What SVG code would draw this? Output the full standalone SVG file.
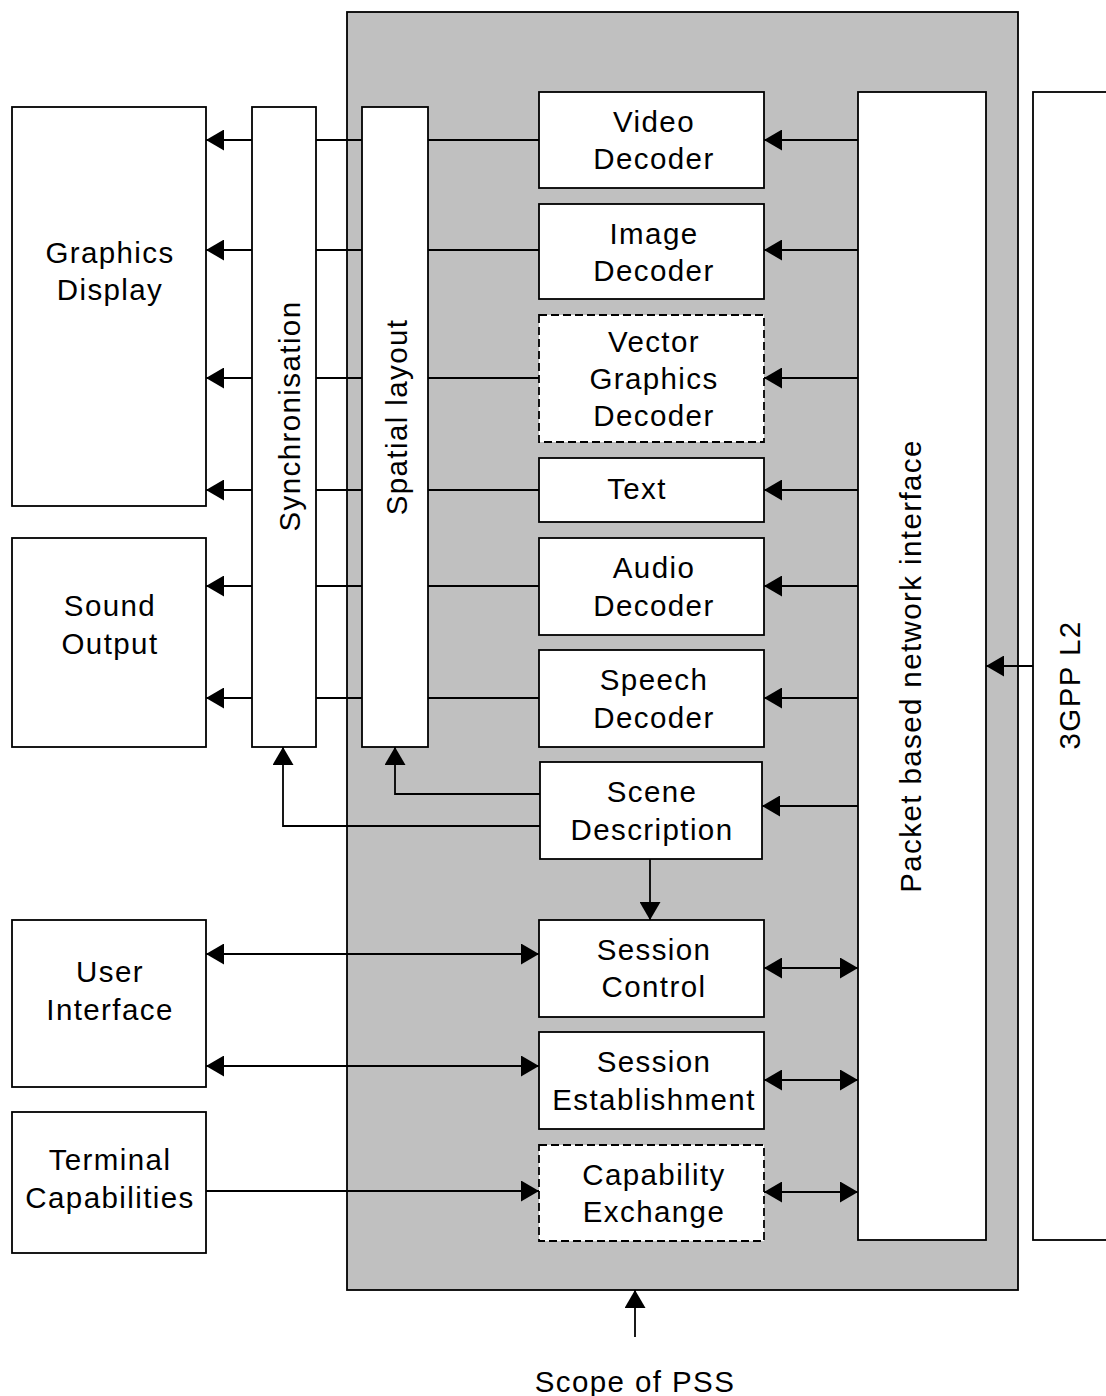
<svg xmlns="http://www.w3.org/2000/svg" width="1106" height="1396" viewBox="0 0 1106 1396">
<style>
.box{fill:#fff;stroke:#000;stroke-width:1.8}
.dash{fill:#fff;stroke:#000;stroke-width:1.8;stroke-dasharray:8,4}
.scope{fill:#c0c0c0;stroke:#000;stroke-width:1.8}
.ln{fill:none;stroke:#000;stroke-width:1.8}
.t{font-family:"Liberation Sans",Arial,sans-serif;font-size:29.5px;letter-spacing:1.4px;fill:#000;text-anchor:middle}
</style>
<defs>
<marker id="ah" markerUnits="userSpaceOnUse" markerWidth="18" markerHeight="21" refX="18" refY="10.5" orient="auto-start-reverse" viewBox="0 0 18 21">
<path d="M0,0 L18,10.5 L0,21 z" fill="#000"/>
</marker>
</defs>
<g id="scope"><rect class="scope" x="347" y="12" width="671" height="1278"/></g>
<g id="connectors">
<line class="ln" x1="252" y1="140" x2="206" y2="140" marker-end="url(#ah)"/>
<line class="ln" x1="252" y1="250" x2="206" y2="250" marker-end="url(#ah)"/>
<line class="ln" x1="252" y1="378" x2="206" y2="378" marker-end="url(#ah)"/>
<line class="ln" x1="252" y1="490" x2="206" y2="490" marker-end="url(#ah)"/>
<line class="ln" x1="252" y1="586" x2="206" y2="586" marker-end="url(#ah)"/>
<line class="ln" x1="252" y1="698" x2="206" y2="698" marker-end="url(#ah)"/>
<line class="ln" x1="539" y1="140" x2="316" y2="140"/>
<line class="ln" x1="539" y1="250" x2="316" y2="250"/>
<line class="ln" x1="539" y1="378" x2="316" y2="378"/>
<line class="ln" x1="539" y1="490" x2="316" y2="490"/>
<line class="ln" x1="539" y1="586" x2="316" y2="586"/>
<line class="ln" x1="539" y1="698" x2="316" y2="698"/>
<line class="ln" x1="858" y1="140" x2="764" y2="140" marker-end="url(#ah)"/>
<line class="ln" x1="858" y1="250" x2="764" y2="250" marker-end="url(#ah)"/>
<line class="ln" x1="858" y1="378" x2="764" y2="378" marker-end="url(#ah)"/>
<line class="ln" x1="858" y1="490" x2="764" y2="490" marker-end="url(#ah)"/>
<line class="ln" x1="858" y1="586" x2="764" y2="586" marker-end="url(#ah)"/>
<line class="ln" x1="858" y1="698" x2="764" y2="698" marker-end="url(#ah)"/>
<line class="ln" x1="858" y1="806" x2="762" y2="806" marker-end="url(#ah)"/>
<line class="ln" x1="764" y1="968" x2="858" y2="968" marker-start="url(#ah)" marker-end="url(#ah)"/>
<line class="ln" x1="764" y1="1080" x2="858" y2="1080" marker-start="url(#ah)" marker-end="url(#ah)"/>
<line class="ln" x1="764" y1="1192" x2="858" y2="1192" marker-start="url(#ah)" marker-end="url(#ah)"/>
<line class="ln" x1="1033" y1="666" x2="986" y2="666" marker-end="url(#ah)"/>
<polyline class="ln" points="540,794 395,794 395,747" marker-end="url(#ah)"/>
<polyline class="ln" points="540,826 283,826 283,747" marker-end="url(#ah)"/>
<line class="ln" x1="650" y1="859" x2="650" y2="920" marker-end="url(#ah)"/>
<line class="ln" x1="206" y1="954" x2="539" y2="954" marker-start="url(#ah)" marker-end="url(#ah)"/>
<line class="ln" x1="206" y1="1066" x2="539" y2="1066" marker-start="url(#ah)" marker-end="url(#ah)"/>
<line class="ln" x1="206" y1="1191" x2="539" y2="1191" marker-end="url(#ah)"/>
<line class="ln" x1="635" y1="1337" x2="635" y2="1290" marker-end="url(#ah)"/>
</g>
<g id="graphics-display"><rect class="box" x="12" y="107" width="194" height="399"/>
<text class="t" x="110" y="263">Graphics</text><text class="t" x="110" y="300">Display</text></g>
<g id="sound-output"><rect class="box" x="12" y="538" width="194" height="209"/>
<text class="t" x="110" y="616">Sound</text><text class="t" x="110" y="654">Output</text></g>
<g id="user-interface"><rect class="box" x="12" y="920" width="194" height="167"/>
<text class="t" x="110" y="982">User</text><text class="t" x="110" y="1020">Interface</text></g>
<g id="terminal-capabilities"><rect class="box" x="12" y="1112" width="194" height="141"/>
<text class="t" x="110" y="1170">Terminal</text><text class="t" x="110" y="1208">Capabilities</text></g>
<g id="synchronisation"><rect class="box" x="252" y="107" width="64" height="640"/>
<text class="t" transform="translate(300,416) rotate(-90)">Synchronisation</text></g>
<g id="spatial-layout"><rect class="box" x="362" y="107" width="66" height="640"/>
<text class="t" transform="translate(407,417) rotate(-90)">Spatial layout</text></g>
<g id="video-decoder"><rect class="box" x="539" y="92" width="225" height="96"/>
<text class="t" x="654" y="132">Video</text><text class="t" x="654" y="169">Decoder</text></g>
<g id="image-decoder"><rect class="box" x="539" y="204" width="225" height="95"/>
<text class="t" x="654" y="244">Image</text><text class="t" x="654" y="281">Decoder</text></g>
<g id="vector-graphics-decoder"><rect class="dash" x="539" y="315" width="225" height="127"/>
<text class="t" x="654" y="352">Vector</text><text class="t" x="654" y="389">Graphics</text><text class="t" x="654" y="426">Decoder</text></g>
<g id="text"><rect class="box" x="539" y="458" width="225" height="64"/>
<text class="t" x="637" y="499">Text</text></g>
<g id="audio-decoder"><rect class="box" x="539" y="538" width="225" height="97"/>
<text class="t" x="654" y="578">Audio</text><text class="t" x="654" y="616">Decoder</text></g>
<g id="speech-decoder"><rect class="box" x="539" y="650" width="225" height="97"/>
<text class="t" x="654" y="690">Speech</text><text class="t" x="654" y="728">Decoder</text></g>
<g id="scene-description"><rect class="box" x="540" y="762" width="222" height="97"/>
<text class="t" x="652" y="802">Scene</text><text class="t" x="652" y="840">Description</text></g>
<g id="session-control"><rect class="box" x="539" y="920" width="225" height="97"/>
<text class="t" x="654" y="960">Session</text><text class="t" x="654" y="997">Control</text></g>
<g id="session-establishment"><rect class="box" x="539" y="1032" width="225" height="97"/>
<text class="t" x="654" y="1072">Session</text><text class="t" x="654" y="1110">Establishment</text></g>
<g id="capability-exchange"><rect class="dash" x="539" y="1145" width="225" height="96"/>
<text class="t" x="654" y="1185">Capability</text><text class="t" x="654" y="1222">Exchange</text></g>
<g id="packet-interface"><rect class="box" x="858" y="92" width="128" height="1148"/>
<text class="t" transform="translate(921,666) rotate(-90)">Packet based network interface</text></g>
<g id="gpp-l2"><rect class="box" x="1033" y="92" width="100" height="1148"/>
<text class="t" transform="translate(1080,685) rotate(-90)">3GPP L2</text></g>
<g id="scope-label"><text class="t" x="635" y="1392">Scope of PSS</text></g>
</svg>
